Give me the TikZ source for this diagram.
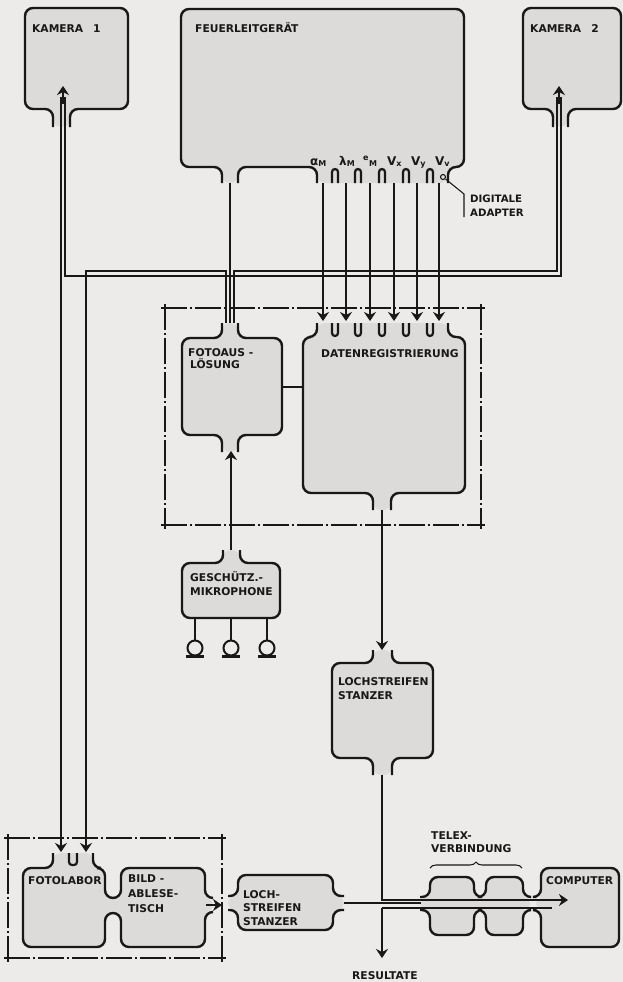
\documentclass[tikz,border=0pt]{standalone}
\usepackage{fontspec}
\setmainfont{DejaVu Sans}
\usetikzlibrary{arrows.meta,decorations.pathreplacing}
\definecolor{paper}{HTML}{ECEBE9}
\definecolor{boxgray}{HTML}{DCDBD9}
\definecolor{ink}{HTML}{1A1717}
\tikzset{
 boxline/.style={draw=ink,line width=2.4pt,rounded corners=8pt},
 boxfill/.style={fill=boxgray,rounded corners=8pt},
 cupline/.style={draw=ink,line width=2.2pt,rounded corners=3pt},
 sig/.style={draw=ink,line width=1.05pt},
 arr/.style={sig,-{Stealth[width=12pt,length=9pt,inset=3pt]}},
 frame/.style={draw=ink,line width=1.2pt,dash pattern=on 26pt off 3pt on 2pt off 3pt},
 lab/.style={font=\bfseries\fontsize{10.7}{12}\selectfont,text=ink,inner sep=0pt,anchor=base west},
 sub/.style={font=\bfseries\fontsize{12}{12}\selectfont,text=ink,inner sep=0pt,anchor=base west},
 small/.style={font=\bfseries\fontsize{10.2}{12}\selectfont,text=ink,inner sep=0pt,anchor=base west},
}
\begin{document}
\begin{tikzpicture}[x=1pt,y=-1pt]
\useasboundingbox (0,0) rectangle (623,982);
\fill[paper] (0,0) rectangle (623,982);

% ---------- dash-dot frames
\draw[frame] (161,308)--(485,308);
\draw[frame] (161,525)--(485,525);
\draw[frame] (165,304)--(165,529);
\draw[frame] (481,304)--(481,529);
\draw[frame] (4,838)--(226,838);
\draw[frame] (4,958)--(226,958);
\draw[frame] (8,834)--(8,962);
\draw[frame] (222,834)--(222,962);

% ---------- Kamera 1
\fill[boxfill] (53,127)--(53,109)--(25,109)--(25,8)--(128,8)--(128,109)--(70,109)--(70,127)--cycle;
\draw[boxline] (53,127)--(53,109)--(25,109)--(25,8)--(128,8)--(128,109)--(70,109)--(70,127);
\node[lab] (k1t) at (32,33) {KAMERA\hspace{10pt}1};
\coordinate (k1a) at (61,97);
\coordinate (k1b) at (65,97);
\draw[arr] (63,104) -- (63,86);

% ---------- Kamera 2
\fill[boxfill] (553,127)--(553,109)--(523,109)--(523,8)--(621,8)--(621,109)--(568,109)--(568,127)--cycle;
\draw[boxline] (553,127)--(553,109)--(523,109)--(523,8)--(621,8)--(621,109)--(568,109)--(568,127);
\node[lab] (k2t) at (530,33) {KAMERA\hspace{10pt}2};
\coordinate (k2a) at (557,97);
\coordinate (k2b) at (561,97);
\draw[arr] (559,104) -- (559,86);

% ---------- Feuerleitgeraet
\fill[boxfill] (222,183)--(222,167)--(181,167)--(181,9)--(464,9)--(464,167)--(448,167)--(448,183)--(317,183)--(317,167)--(238,167)--(238,183)--cycle;
\draw[boxline] (222,183)--(222,167)--(181,167)--(181,9)--(464,9)--(464,167)--(448,167)--(448,183);
\draw[boxline] (238,183)--(238,167)--(317,167)--(317,183);
\foreach \c in {335,358,382,406,430}{
  \draw[cupline] (\c-3,183)--(\c-3,169)--(\c+3,169)--(\c+3,183);}
\node[lab] (ft) at (195,33) {FEUERLEITGERÄT};
\node[sub] (l1) at (310,165) {α\textsubscript{M}};
\node[sub] (l2) at (339,165) {λ\textsubscript{M}};
\node[sub] (l3) at (363,165) {\textsuperscript{e}\textsubscript{M}};
\node[sub] (l4) at (387,165) {V\textsubscript{x}};
\node[sub] (l5) at (411,165) {V\textsubscript{y}};
\node[sub] (l6) at (435,165) {V\textsubscript{v}};
\draw[sig] (443,177) circle (2.5);
\coordinate (adp) at (445.5,179);
\draw[sig] (adp)--(464,194)--(464,217);
\node[small] (dig1) at (470,202) {DIGITALE};
\node[small] (dig2) at (470,216) {ADAPTER};

% ---------- Fotoausloesung
\fill[boxfill] (222,323)--(222,338)--(182,338)--(182,435)--(222,435)--(222,452)--(238,452)--(238,435)--(282,435)--(282,338)--(238,338)--(238,323)--cycle;
\draw[boxline] (222,323)--(222,338)--(182,338)--(182,435)--(222,435)--(222,452);
\draw[boxline] (238,452)--(238,435)--(282,435)--(282,338)--(238,338)--(238,323);
\node[lab] (fa1) at (188,356) {FOTOAUS -};
\node[lab] (fa2) at (190,368) {LÖSUNG};

% ---------- Datenregistrierung
\fill[boxfill] (317,323)--(317,337)--(303,337)--(303,493)--(373,493)--(373,510)--(391,510)--(391,493)--(465,493)--(465,337)--(448,337)--(448,323)--cycle;
\draw[boxline] (317,323)--(317,337)--(303,337)--(303,493)--(373,493)--(373,510);
\draw[boxline] (391,510)--(391,493)--(465,493)--(465,337)--(448,337)--(448,323);
\foreach \c in {335,358,382,406,430}{
  \draw[cupline] (\c-3,323)--(\c-3,336)--(\c+3,336)--(\c+3,323);}
\node[lab] (dt) at (321,357) {DATENREGISTRIERUNG};
\draw[draw=ink,line width=2.4pt] (282,387)--(303,387);

% signal lines F -> D
\foreach \x in {323,346,370,394,417,439}{
  \draw[arr] (\x,183)--(\x,321);}

% ---------- Geschuetz-Mikrophone
\fill[boxfill] (223,550)--(223,563)--(182,563)--(182,618)--(280,618)--(280,563)--(240,563)--(240,550)--cycle;
\draw[boxline] (223,550)--(223,563)--(182,563)--(182,618)--(280,618)--(280,563)--(240,563)--(240,550);
\node[lab] (gm1) at (190,581) {GESCHÜTZ.-};
\node[lab] (gm2) at (190,595) {MIKROPHONE};
\foreach \x in {195,231,267}{
  \draw[draw=ink,line width=1.6pt] (\x,618)--(\x,640);
  \draw[draw=ink,line width=2pt] (\x,648) circle (7.5);
  \draw[draw=ink,line width=2.2pt] (\x-9,656.5)--(\x+9,656.5);}
\coordinate (gmtop) at (231,550);
\coordinate (fabot) at (231,451);
\draw[arr] (gmtop)--(fabot);

% ---------- Lochstreifen Stanzer (1)
\fill[boxfill] (373,650)--(373,663)--(332,663)--(332,758)--(373,758)--(373,775)--(392,775)--(392,758)--(433,758)--(433,663)--(392,663)--(392,650)--cycle;
\draw[boxline] (373,650)--(373,663)--(332,663)--(332,758)--(373,758)--(373,775);
\draw[boxline] (392,775)--(392,758)--(433,758)--(433,663)--(392,663)--(392,650);
\node[lab] (ls1a) at (338,685) {LOCHSTREIFEN};
\node[lab] (ls1b) at (338,699) {STANZER};
\coordinate (dbot) at (382,510);
\coordinate (ls1top) at (382,650);
\draw[arr] (dbot)--(ls1top);

% ---------- camera wiring
\coordinate (fl1) at (61,852);
\coordinate (fl2) at (86,852);
\draw[arr] (k1a)--(fl1);
\draw[sig] (k1b)--(65,276)--(561,276)--(k2b);
\draw[sig] (k2a)--(557,271)--(234,271)--(234,323);
\draw[arr] (226,323)--(226,271)--(86,271)--(fl2);
\draw[sig] (230,183)--(230,323);

% ---------- Fotolabor / Bildablesetisch
\fill[boxfill] (53,853)--(53,868)--(23,868)--(23,947)--(105,947)--(105,913)--(121,913)--(121,947)--(205,947)--(205,912)--(213,912)--(213,898)--(205,898)--(205,868)--(121,868)--(121,898)--(105,898)--(105,868)--(93,868)--(93,853)--cycle;
\draw[boxline] (53,853)--(53,868)--(23,868)--(23,947)--(105,947)--(105,913)--(121,913)--(121,947)--(205,947)--(205,912)--(213,912);
\draw[boxline] (213,898)--(205,898)--(205,868)--(121,868)--(121,898)--(105,898)--(105,868)--(93,868)--(93,853);
\draw[cupline] (69,853)--(69,865)--(77,865)--(77,853);
\node[lab] (flt) at (28,884) {FOTOLABOR};
\node[lab] (bt1) at (128,882) {BILD -};
\node[lab] (bt2) at (128,897) {ABLESE-};
\node[lab] (bt3) at (128,912) {TISCH};

% ---------- Lochstreifen Stanzer (2)
\fill[boxfill] (228,896)--(238,896)--(238,875)--(333,875)--(333,896)--(344,896)--(344,910)--(333,910)--(333,930)--(238,930)--(238,910)--(228,910)--cycle;
\draw[boxline] (228,896)--(238,896)--(238,875)--(333,875)--(333,896)--(344,896);
\draw[boxline] (228,910)--(238,910)--(238,930)--(333,930)--(333,910)--(344,910);
\node[lab] (ls2a) at (243,898) {LOCH-};
\node[lab] (ls2b) at (243,911) {STREIFEN};
\node[lab] (ls2c) at (243,925) {STANZER};
\draw[arr] (206,905)--(222,905);

% ---------- Telex
\fill[boxfill] (420,897)--(430,897)--(430,877)--(474,877)--(474,897)--(486,897)--(486,877)--(523,877)--(523,897)--(530,897)--(530,910)--(523,910)--(523,935)--(486,935)--(486,910)--(474,910)--(474,935)--(430,935)--(430,910)--(420,910)--cycle;
\draw[boxline] (420,897)--(430,897)--(430,877)--(474,877)--(474,897)--(486,897)--(486,877)--(523,877)--(523,897)--(530,897);
\draw[boxline] (420,910)--(430,910)--(430,935)--(474,935)--(474,910)--(486,910)--(486,935)--(523,935)--(523,910)--(530,910);
\node[lab] (tx1) at (431,839) {TELEX-};
\node[lab] (tx2) at (431,852) {VERBINDUNG};
\draw[sig,decorate,decoration={brace,amplitude=6pt}] (430,868)--(522,868);

% ---------- Computer
\fill[boxfill] (536,897)--(541,897)--(541,868)--(619,868)--(619,947)--(541,947)--(541,910)--(536,910)--cycle;
\draw[boxline] (536,897)--(541,897)--(541,868)--(619,868)--(619,947)--(541,947)--(541,910)--(536,910);
\node[lab] (ct) at (546,884) {COMPUTER};

% ---------- bottom wiring
\coordinate (ls1bot) at (382,775);
\coordinate (cin) at (568,900);
\draw[arr] (ls1bot)--(382,900)--(cin);
\draw[sig] (344,903)--(421,903);
\draw[sig] (382,908)--(552,908);
\coordinate (res) at (382,958);
\draw[arr] (382,908)--(res);
\node[lab,anchor=base] (rt) at (385,979) {RESULTATE};
\end{tikzpicture}
\end{document}
